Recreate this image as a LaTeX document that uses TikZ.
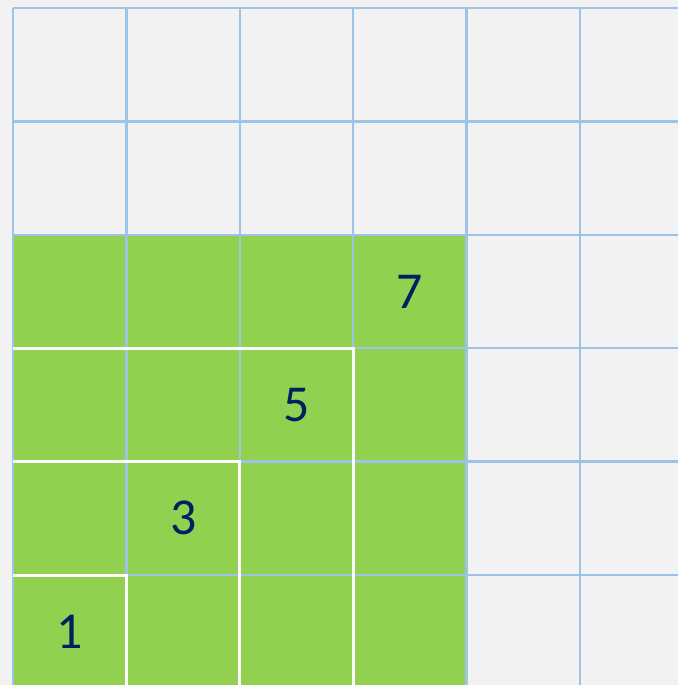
\documentclass[tikz,border=0pt]{standalone}
\usepackage{fontspec}
\setmainfont{Carlito}
\usepackage{tikz}
\usetikzlibrary{positioning}
\definecolor{paper}{HTML}{F2F2F2}
\definecolor{gridblue}{HTML}{9DC3E6}
\definecolor{leaf}{HTML}{92D050}
\definecolor{navy}{HTML}{002060}

\begin{document}
\begin{tikzpicture}[x=2cm, y=2cm,
    cellgrid/.style={draw=gridblue, line width=1.2pt, step=2cm},
    square/.style={draw=white, line width=1.5pt},
    num/.style={font=\fontsize{26}{30}\selectfont, text=navy, inner sep=0pt}
]
\fill[paper] (-0.115,0.03) rectangle (5.864,6.071);
\useasboundingbox (-0.115,0.03) rectangle (5.864,6.071);
\fill[leaf] (0,-0.5) rectangle (4,4);
\draw[cellgrid] (0,-0.5) grid (6.5,6);
\draw[cellgrid] (0,6) -- (6.5,6);
% odd squares
\draw[square] (0,1) -- (1,1) -- (1,-0.5);
\draw[square] (0,2) -- (2,2) -- (2,-0.5);
\draw[square] (0,3) -- (3,3) -- (3,-0.5);
\foreach \k/\n in {0/1,1/3,2/5,3/7}
  \node[num] (n\n) at (\k+0.5,\k+0.5) {\n};
\end{tikzpicture}
\end{document}
